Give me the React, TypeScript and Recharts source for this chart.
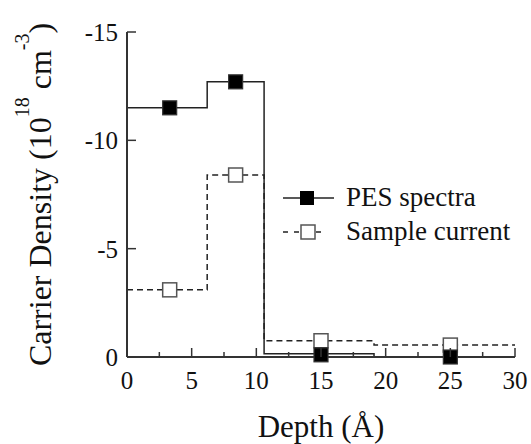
import React from 'react';
import {
  ComposedChart,
  Line,
  Scatter,
  XAxis,
  YAxis,
  Legend,
  Label
} from 'recharts';

// layer boundaries (Å) and the step levels between them
const depthEdges = [0, 6.2, 10.6, 19.1, 30];
const pesLevels = [-11.5, -12.7, -0.15, 0];
const sampleLevels = [-3.1, -8.4, -0.75, -0.55];

// measured points
const markerDepths = [3.3, 8.4, 15, 25];
const pesPoints = [-11.5, -12.7, -0.1, 0];
const samplePoints = [-3.1, -8.4, -0.75, -0.55];

const xTicks = [0, 2.5, 5, 7.5, 10, 12.5, 15, 17.5, 20, 22.5, 25, 27.5, 30];
const yTicks = [-15, -10, -5, 0];

const FONT = "'Liberation Serif', 'Times New Roman', 'DejaVu Serif', serif";
const INK = '#222';
const FRAME = '#333';
const txt = { fontFamily: FONT };

const toSteps = (levels: number[]) =>
  depthEdges.map((x, i) => ({ x, y: levels[Math.min(i, levels.length - 1)] }));

const toPoints = (values: number[]) =>
  markerDepths.map((x, i) => ({ x, y: values[i] }));

const pesSteps = toSteps(pesLevels);
const sampleSteps = toSteps(sampleLevels);
const pesMarks = toPoints(pesPoints);
const sampleMarks = toPoints(samplePoints);

const FilledSquare = (props: any) => (
  <rect x={props.cx - 7} y={props.cy - 7} width={14} height={14} fill="#000" stroke={FRAME} strokeWidth={1.2} />
);
const OpenSquare = (props: any) => (
  <rect x={props.cx - 7} y={props.cy - 7} width={14} height={14} fill="#fff" stroke="#555" strokeWidth={1.5} />
);

// inward ticks, labels only on multiples of 5
const BottomTick = ({ x, y, payload }: any) => {
  const major = payload.value % 5 === 0;
  return (
    <g>
      <line x1={x} x2={x} y1={y} y2={y - (major ? 9 : 5)} stroke={FRAME} strokeWidth={1.5} />
      {major && (
        <text x={x} y={y + 32} textAnchor="middle" fontSize={25} style={txt} fill="#111">
          {payload.value}
        </text>
      )}
    </g>
  );
};

const TopTick = ({ x, y, payload }: any) => {
  const major = payload.value % 5 === 0;
  return <line x1={x} x2={x} y1={y} y2={y + (major ? 9 : 5)} stroke={FRAME} strokeWidth={1.5} />;
};

const LeftTick = ({ x, y, payload }: any) => (
  <g>
    <line x1={x} x2={x + 9} y1={y} y2={y} stroke={FRAME} strokeWidth={1.5} />
    <text x={x - 9} y={y + 9} textAnchor="end" fontSize={25} style={txt} fill="#111">
      {payload.value}
    </text>
  </g>
);

const RightTick = ({ x, y }: any) => (
  <line x1={x} x2={x - 9} y1={y} y2={y} stroke={FRAME} strokeWidth={1.5} />
);

const YTitle = ({ viewBox }: any) => {
  const x = viewBox.x + 51;
  const y = viewBox.y + viewBox.height / 2;
  return (
    <text x={x} y={y} transform={`rotate(-90, ${x}, ${y})`} textAnchor="middle" fontSize={32} style={txt} fill="#111">
      Carrier Density (10
      <tspan dy={-22} fontSize={20}>18</tspan>
      <tspan dy={22}> cm</tspan>
      <tspan dy={-22} fontSize={20}>-3</tspan>
      <tspan dy={22}>)</tspan>
    </text>
  );
};

const XTitle = ({ viewBox }: any) => (
  <text x={viewBox.x + viewBox.width / 2} y={viewBox.y + 80} textAnchor="middle" fontSize={31} style={txt} fill="#111">
    Depth (Å)
  </text>
);

const LegendBox = () => (
  <svg width={240} height={70}>
    <line x1={0} x2={51} y1={15} y2={15} stroke={INK} strokeWidth={1.5} />
    <rect x={17} y={8} width={14} height={14} fill="#000" />
    <text x={63} y={23} fontSize={27} style={txt} fill="#111">PES spectra</text>
    <line x1={0} x2={44} y1={49} y2={49} stroke={INK} strokeWidth={1.5} strokeDasharray="5 6" />
    <rect x={18} y={42} width={14} height={14} fill="#fff" stroke="#555" strokeWidth={1.5} />
    <text x={63} y={57} fontSize={27} style={txt} fill="#111">Sample current</text>
  </svg>
);

export default function App() {
  return (
    <div style={{ position: 'absolute', left: 0, top: 0, background: '#fff', fontFamily: FONT }}>
      <ComposedChart width={531} height={444} margin={{ top: 32, right: 16, bottom: 0, left: 0 }}>
        <XAxis
          type="number"
          dataKey="x"
          domain={[0, 30]}
          ticks={xTicks}
          interval={0}
          height={87}
          stroke={FRAME}
          axisLine={{ stroke: FRAME, strokeWidth: 2 }}
          tickLine={false}
          tickSize={0}
          tickMargin={0}
          tick={<BottomTick />}
        >
          <Label content={<XTitle />} />
        </XAxis>
        <XAxis
          xAxisId="top"
          orientation="top"
          type="number"
          dataKey="x"
          domain={[0, 30]}
          ticks={xTicks}
          interval={0}
          height={0}
          axisLine={{ stroke: FRAME, strokeWidth: 2 }}
          tickLine={false}
          tickSize={0}
          tickMargin={0}
          tick={<TopTick />}
        />
        <YAxis
          type="number"
          dataKey="y"
          domain={[-15, 0]}
          reversed
          ticks={yTicks}
          interval={0}
          width={127}
          axisLine={{ stroke: FRAME, strokeWidth: 2 }}
          tickLine={false}
          tickSize={0}
          tickMargin={0}
          tick={<LeftTick />}
        >
          <Label content={<YTitle />} />
        </YAxis>
        <YAxis
          yAxisId="right"
          orientation="right"
          type="number"
          domain={[-15, 0]}
          reversed
          ticks={yTicks}
          interval={0}
          width={0}
          axisLine={{ stroke: FRAME, strokeWidth: 2 }}
          tickLine={false}
          tickSize={0}
          tickMargin={0}
          tick={<RightTick />}
        />
        <Legend
          layout="horizontal"
          verticalAlign="middle"
          align="center"
          content={<LegendBox />}
          wrapperStyle={{ left: 283, top: 183, width: 240, height: 70 }}
        />
        <Line
          data={sampleSteps}
          dataKey="y"
          type="stepAfter"
          stroke={INK}
          strokeWidth={1.5}
          strokeDasharray="6 4"
          dot={false}
          activeDot={false}
          isAnimationActive={false}
        />
        <Line
          data={pesSteps}
          dataKey="y"
          type="stepAfter"
          stroke={INK}
          strokeWidth={1.5}
          dot={false}
          activeDot={false}
          isAnimationActive={false}
        />
        <Scatter data={sampleMarks} dataKey="y" shape={<OpenSquare />} isAnimationActive={false} />
        <Scatter data={pesMarks} dataKey="y" shape={<FilledSquare />} isAnimationActive={false} />
      </ComposedChart>
    </div>
  );
}
